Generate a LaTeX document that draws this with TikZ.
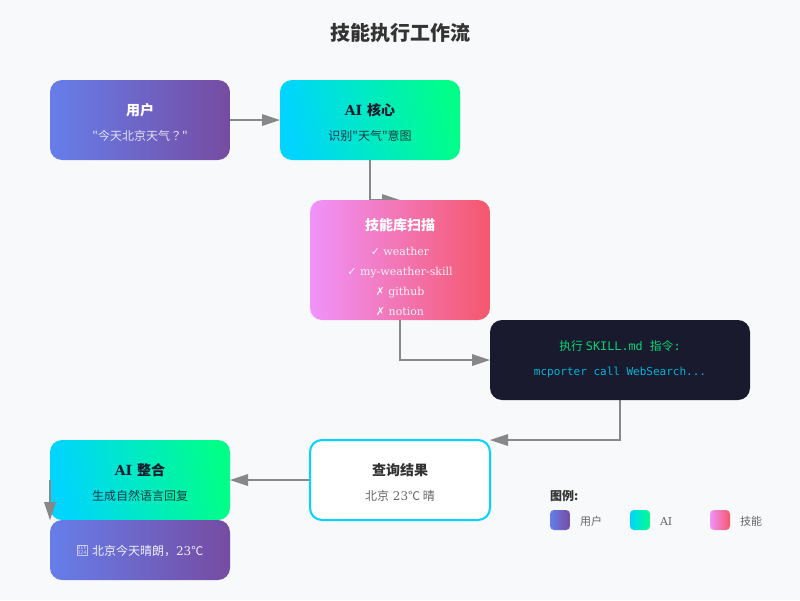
\documentclass[tikz,border=0pt]{standalone}
\usepackage{fontspec}
\usetikzlibrary{arrows.meta,backgrounds}
\setmainfont{DejaVu Serif}
\setmonofont{DejaVu Sans Mono}
\newfontfamily\cjk{Noto Sans CJK SC}
\newfontfamily\cjkjp{Noto Sans CJK JP}
\newfontfamily\symb{DejaVu Sans}
\definecolor{pagebg}{HTML}{F8F9FA}
\definecolor{ink}{HTML}{1A1A2E}
\definecolor{userA}{HTML}{667EEA}
\definecolor{userB}{HTML}{764BA2}
\definecolor{coreA}{HTML}{00D4FF}
\definecolor{coreB}{HTML}{00FF88}
\definecolor{skillA}{HTML}{F093FB}
\definecolor{skillB}{HTML}{F5576C}
\definecolor{flowgray}{HTML}{888888}
\newcommand{\fs}[1]{\fontsize{#1}{#1}\selectfont}
\tikzset{
  box/.style={rectangle,rounded corners=12pt,minimum width=180pt,minimum height=80pt,inner sep=0pt,outer sep=0pt},
  userbox/.style={box,left color=userA,right color=userB},
  corebox/.style={box,left color=coreA,right color=coreB,shading angle=100},
  skillbox/.style={box,left color=skillA,right color=skillB},
  swatch/.style={rectangle,rounded corners=4pt,minimum width=20pt,minimum height=20pt,inner sep=0pt},
  txt/.style={anchor=base,inner sep=0pt,outer sep=0pt},
  flow/.style={draw=flowgray,line width=2pt,-{Triangle[length=18pt,width=12pt,line width=0pt]}},
}
\begin{document}
\begin{tikzpicture}[x=1pt,y=-1pt]
  \useasboundingbox (0,0) rectangle (800,600);

  \node[txt,text=black!80] at (400,40) (title) {\fs{20}\cjk\bfseries 技能执行工作流};

  % boxes
  \node[userbox] at (140,120) (user) {};
  \node[corebox] at (370,120) (core) {};
  \node[skillbox,minimum height=120pt] at (400,260) (scan) {};
  \node[box,fill=ink,minimum width=260pt] at (620,360) (exec) {};
  \node[box,draw=coreA,line width=2pt,fill=white] at (400,480) (result) {};
  \node[corebox] at (140,480) (merge) {};
  \node[userbox,minimum height=60pt] at (140,550) (answer) {};

  % connectors sit under the boxes
  \begin{scope}[on background layer]
    \fill[pagebg] (0,0) rectangle (800,600);
    \draw[flow] (user) -- (core);
    \draw[flow] (core.south) |- (scan.north);
    \draw[flow] (scan.south) |- (exec.west);
    \draw[flow] (exec.south) |- (result.north east);
    \draw[flow] (result.west) -- (merge.east);
  \end{scope}
  \draw[flow] (merge.west) -- (answer.north west);

  % box texts
  \node[txt,text=white] at (140,115) (usertitle) {\fs{14}\cjk\bfseries 用户};
  \node[txt,text=white,text opacity=.8] at (140,140) (usersub) {\fs{12}\cjk "今天北京天气{\cjkjp ？}"};

  \node[txt,text=ink] at (370,115) (coretitle) {\fs{14}\bfseries AI {\cjk 核心}};
  \node[txt,text=ink,text opacity=.85] at (370,140) (coresub) {\fs{12}\cjk 识别"天气"意图};

  \node[txt,text=white] at (400,230) (scantitle) {\fs{14}\cjk\bfseries 技能库扫描};
  \node[txt,text=white,text opacity=.9] at (400,255) (scanA) {\fs{11}{\symb ✓} weather};
  \node[txt,text=white,text opacity=.9] at (400,275) (scanB) {\fs{11}{\symb ✓} my-weather-skill};
  \node[txt,text=white,text opacity=.9] at (400,295) (scanC) {\fs{11}{\symb ✗} github};
  \node[txt,text=white,text opacity=.9] at (400,315) (scanD) {\fs{11}{\symb ✗} notion};

  \node[txt,text=coreB!85!black] at (620,350) (execA) {\fs{11.8}\ttfamily{\cjk 执行}\hspace{3pt}SKILL.md {\cjk 指令}:};
  \node[txt,text=coreA!85!black] at (620,375) (execB) {\fs{11}\ttfamily mcporter call WebSearch...};

  \node[txt,text=black!80] at (400,475) (resulttitle) {\fs{14}\cjk\bfseries 查询结果};
  \node[txt,text=black!60] at (400,500) (resultsub) {\fs{12}{\cjk 北京} 23{\cjk ℃ 晴}};

  \node[txt,text=ink] at (140,475) (mergetitle) {\fs{14}\bfseries AI {\cjk 整合}};
  \node[txt,text=ink,text opacity=.85] at (140,500) (mergesub) {\fs{12}\cjk 生成自然语言回复};

  \node[draw=white,draw opacity=.6,line width=.5pt,text=white,text opacity=.7,inner sep=.7pt,align=center,font=\fs{5}\ttfamily] at (82,550.5) (tofu) {01F\\324};
  \node[txt,anchor=base west,text=white,text opacity=.9] at (92,555) (answertext) {\fs{12}{\cjk 北京今天晴朗，}23{\cjk ℃}};

  % legend
  \node[txt,anchor=base west,text=black!80] at (550,500) (legend) {\fs{12}\cjk\bfseries 图例:};
  \node[swatch,left color=userA,right color=userB] at (560,520) (swuser) {};
  \node[txt,anchor=base west,text=black!60] at (580,525) (lbuser) {\fs{11}\cjk 用户};
  \node[swatch,left color=coreA,right color=coreB] at (640,520) (swcore) {};
  \node[txt,anchor=base west,text=black!60] at (660,525) (lbcore) {\fs{11}AI};
  \node[swatch,left color=skillA,right color=skillB] at (720,520) (swskill) {};
  \node[txt,anchor=base west,text=black!60] at (740,525) (lbskill) {\fs{11}\cjk 技能};
\end{tikzpicture}
\end{document}
